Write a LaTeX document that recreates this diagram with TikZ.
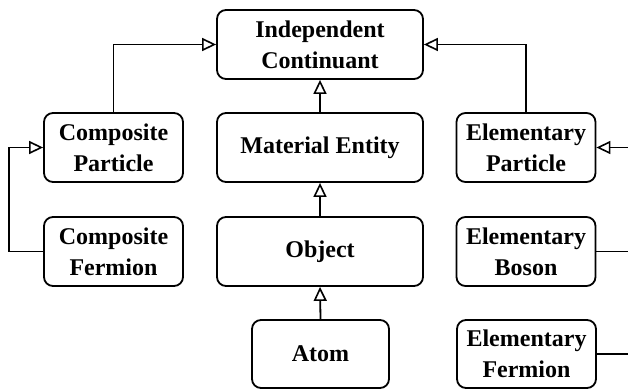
\documentclass[tikz,border=0pt]{standalone}
\usepackage{fontspec}
\setmainfont{Liberation Serif}
\usetikzlibrary{arrows.meta}
\begin{document}
\begin{tikzpicture}[x=1pt,y=-1pt,
  box/.style={draw, line width=1.8pt, rounded corners=9pt, align=center,
    inner sep=0pt, font=\bfseries\fontsize{24}{31}\selectfont,
    minimum height=69pt},
  wide/.style={box, minimum width=206pt},
  narrow/.style={box, minimum width=139pt},
  isa/.style={line width=1.8pt, -{Triangle[open, length=14pt, width=13pt, line width=1.6pt]}},
  link/.style={line width=1.8pt}]
\clip (0,0) rectangle (628,391);
\node[wide] (ic) at (320,44.5) {Independent\\Continuant};
\node[narrow] (cp) at (113.5,147.5) {Composite\\Particle};
\node[wide] (me) at (320,147.5) {Material Entity};
\node[narrow] (ep) at (526,147.5) {Elementary\\Particle};
\node[narrow] (cf) at (113.5,251.5) {Composite\\Fermion};
\node[wide] (ob) at (320,251.5) {Object};
\node[narrow] (eb) at (526,251.5) {Elementary\\Boson};
\node[box, minimum width=137pt, minimum height=68pt] (at) at (320.5,354) {Atom};
\node[narrow, minimum height=68pt] (ef) at (526.5,354) {Elementary\\Fermion};
\coordinate (lft) at (9,0);
\coordinate (rgt) at (640,0);
\draw[isa] (cp.north) |- (ic.west);
\draw[isa] (ep.north) |- (ic.east);
\draw[isa] (me.north) -- (ic.south);
\draw[isa] (ob.north) -- (me.south);
\draw[isa] (at.north) -- (ob.south);
\draw[isa] (cf.west) -- (cf.west -| lft) -- (lft |- cp.west) -- (cp.west);
\draw[isa] (rgt |- ep.east) -- (ep.east);
\draw[link] (eb.east) -- (eb.east -| rgt);
\draw[link] (ef.east) -- (ef.east -| rgt);
\end{tikzpicture}
\end{document}
